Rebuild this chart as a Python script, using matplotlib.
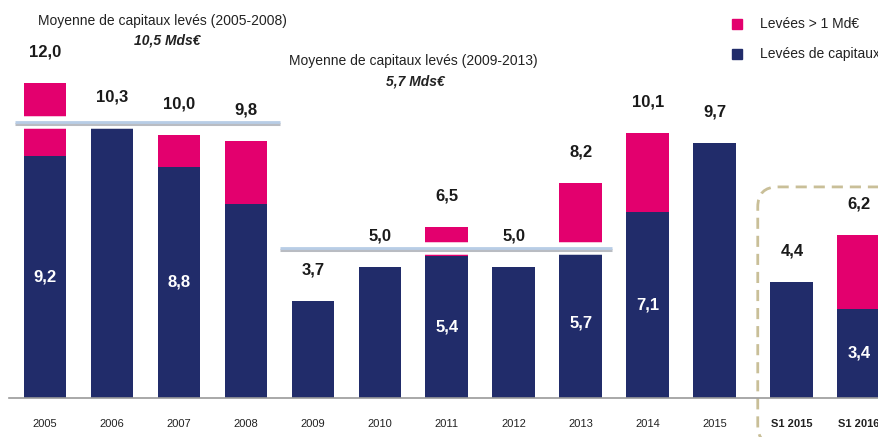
import matplotlib.pyplot as plt
from matplotlib.patches import FancyBboxPatch

plt.rcParams['font.family'] = ['Liberation Sans', 'DejaVu Sans']

# data (Mds EUR)
labels = ['2005', '2006', '2007', '2008', '2009', '2010', '2011', '2012',
          '2013', '2014', '2015', 'S1 2015', 'S1 2016']
totals = [12.0, 10.3, 10.0, 9.8, 3.7, 5.0, 6.5, 5.0, 8.2, 10.1, 9.7, 4.4, 6.2]
base = [9.2, 10.3, 8.8, 7.4, 3.7, 5.0, 5.4, 5.0, 5.7, 7.1, 9.7, 4.4, 3.4]
base_labels = ['9,2', '', '8,8', '', '', '', '5,4', '', '5,7', '7,1', '', '', '3,4']
avg_0508 = 10.5
avg_0913 = 5.7

pink = '#e3006e'
navy = '#212c6a'

xs = list(range(11)) + [11.15, 12.15]
big = [t - b for t, b in zip(totals, base)]

fig = plt.figure(figsize=(8.79, 4.37), dpi=100)
ax = fig.add_axes([0, 0, 1, 1])
ax.set_xlim(-0.672, 12.45)
ax.set_ylim(-1.486, 15.16)
ax.axis('off')

w = 0.64
ax.bar(xs, base, width=w, color=navy, zorder=2)
ax.bar(xs, big, bottom=base, width=w, color=pink, zorder=2)

# axis line
ax.plot([-0.54, 12.5], [0, 0], color='#9a9a9a', lw=1.2, zorder=3)

# average lines (white outline + shadow)
for x0, x1, v in [(-0.45, 3.51, avg_0508), (3.51, 8.46, avg_0913)]:
    ax.plot([x0, x1], [v, v], color='white', lw=9, solid_capstyle='butt', zorder=4)
    ax.plot([x0, x1], [v - 0.05, v - 0.05], color='#b9bcc2', lw=2.2,
            solid_capstyle='butt', zorder=5)
    ax.plot([x0, x1], [v + 0.03, v + 0.03], color='#b8cde6', lw=2.0,
            solid_capstyle='butt', zorder=6)

# value labels
for x, t in zip(xs, totals):
    ax.text(x, t + 1.18, f'{t:.1f}'.replace('.', ','), ha='center', va='center',
            fontsize=12, fontweight='bold', color='#1a1a1a', zorder=7)
for x, b, s in zip(xs, base, base_labels):
    if s:
        ax.text(x, b / 2, s, ha='center', va='center', fontsize=12,
                fontweight='bold', color='white', zorder=7)

# x labels
for x, s in zip(xs, labels):
    bold = s.startswith('S1')
    ax.text(x, -0.98, s, ha='center', va='center', fontsize=8,
            fontweight='bold' if bold else 'normal', color='#222222')

# averages annotations
ax.text(1.76, 14.35, 'Moyenne de capitaux levés (2005-2008)', ha='center', va='center',
        fontsize=10, color='#222222')
ax.text(1.82, 13.6, '10,5 Mds€', ha='center', va='center', fontsize=10,
        fontweight='bold', style='italic', color='#222222')
ax.text(5.5, 12.85, 'Moyenne de capitaux levés (2009-2013)', ha='center', va='center',
        fontsize=10, color='#222222')
ax.text(5.53, 12.05, '5,7 Mds€', ha='center', va='center', fontsize=10,
        fontweight='bold', style='italic', color='#222222')

# dashed rounded box around half-year bars
pad = 0.3
box = FancyBboxPatch((10.64 + pad, -1.8 + pad * 2.55), 2.5, 9.84 - 2 * pad * 2.55,
                     boxstyle=f'round,pad={pad}', mutation_aspect=2.55,
                     fill=False, ec='#c9bf98', lw=2, ls=(0, (4, 2.5)), zorder=1)
ax.add_patch(box)

# legend
ax.plot([0.8385], [0.945], 's', ms=7, color=pink, transform=ax.transAxes)
ax.plot([0.8385], [0.876], 's', ms=7, color=navy, transform=ax.transAxes)
ax.text(0.865, 0.945, 'Levées > 1 Md€', transform=ax.transAxes, va='center',
        fontsize=10, color='#222222')
ax.text(0.865, 0.876, 'Levées de capitaux', transform=ax.transAxes, va='center',
        fontsize=10, color='#222222')

fig.savefig('out.png', dpi=100)
